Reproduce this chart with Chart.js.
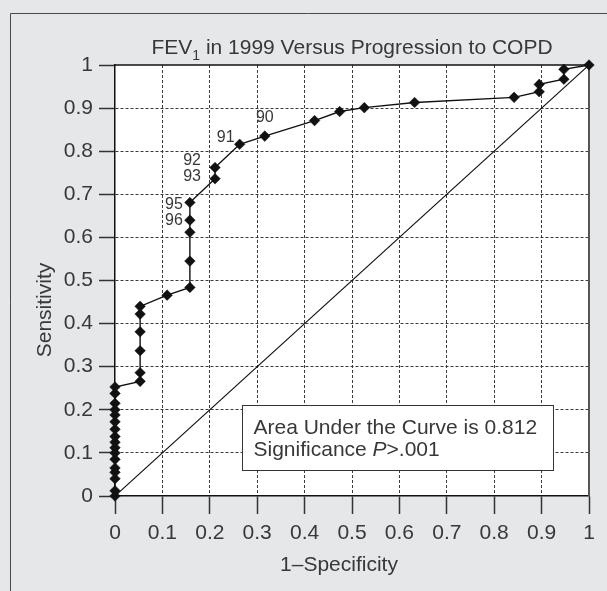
<!DOCTYPE html>
<html>
<head>
<meta charset="utf-8">
<title>FEV1 ROC</title>
<script src="https://cdn.jsdelivr.net/npm/chart.js@4.4.0/dist/chart.umd.min.js"></script>
<style>
    html, body { margin: 0; padding: 0; background: #e6e7e9; }
    #wrap { width: 607px; height: 591px; position: relative; }
</style>
</head>
<body>
<div id="wrap"><canvas id="roc"></canvas></div>
<script>
// ROC curve data
const fpr = [
    0, 0, 0, 0, 0, 0, 0, 0, 0, 0, 0, 0, 0, 0, 0, 0, 0,
    0.053, 0.053, 0.053, 0.053, 0.053, 0.053,
    0.11,
    0.158, 0.158, 0.158, 0.158, 0.158,
    0.211, 0.211, 0.263, 0.316, 0.421, 0.474, 0.526, 0.632,
    0.842, 0.895, 0.895, 0.947, 0.947, 1
];
const tpr = [
    0, 0.012, 0.04, 0.055, 0.065, 0.085, 0.1, 0.112, 0.125, 0.138, 0.155, 0.172, 0.188, 0.2, 0.215, 0.238, 0.253,
    0.266, 0.286, 0.337, 0.381, 0.422, 0.44,
    0.466,
    0.484, 0.545, 0.612, 0.64, 0.681,
    0.736, 0.762, 0.816, 0.835, 0.871, 0.892, 0.901, 0.913,
    0.925, 0.938, 0.955, 0.967, 0.99, 1
];
// cutoff labels (FEV1 % predicted) next to some points
const cutoffLabels = [
    '', '', '', '', '', '', '', '', '', '', '', '', '', '', '', '', '',
    '', '', '', '', '', '',
    '',
    '', '', '', '96', '95',
    '93', '92', '91', '90', '', '', '', '',
    '', '', '', '', '', ''
];
const diagonal = [0, 1];
const axisTicks = [0, 0.1, 0.2, 0.3, 0.4, 0.5, 0.6, 0.7, 0.8, 0.9, 1];
const tickLabels = ['0', '0.1', '0.2', '0.3', '0.4', '0.5', '0.6', '0.7', '0.8', '0.9', '1'];

const FONT = '"Liberation Sans", Arial, sans-serif';
const TEXT = '#383838';

// where each cutoff label sits relative to its point
const labelOffsets = {
    '90': { dx: 0, dy: -19, align: 'center' },
    '91': { dx: -5, dy: -7, align: 'right' },
    '92': { dx: -14, dy: -7, align: 'right' },
    '93': { dx: -14, dy: -2, align: 'right' },
    '95': { dx: -7, dy: 2, align: 'right' },
    '96': { dx: -7, dy: 0, align: 'right' }
};

const rocPoints = fpr.map((x, i) => ({ x: x, y: tpr[i] }));
const diagPoints = diagonal.map(v => ({ x: v, y: v }));

function setTicks(scale) {
    scale.ticks = axisTicks.map(v => ({ value: v }));
}

function tickText(value) {
    const i = axisTicks.indexOf(value);
    return i >= 0 ? tickLabels[i] : '';
}

function edgeColor(ctx) {
    const v = ctx.tick ? ctx.tick.value : null;
    return (v === 0 || v === 1) ? 'rgba(0,0,0,0)' : '#3a3a3a';
}

// Background, frame, plot borders
const framePlugin = {
    id: 'frame',
    beforeDraw(chart) {
        const { ctx, chartArea: a, width, height } = chart;
        ctx.save();
        ctx.fillStyle = '#e6e7e9';
        ctx.fillRect(0, 0, width, height);
        ctx.fillStyle = '#ffffff';
        ctx.fillRect(a.left, a.top, a.right - a.left, a.bottom - a.top);
        ctx.strokeStyle = '#4a4a4a';
        ctx.lineWidth = 1;
        ctx.beginPath();
        ctx.moveTo(10.5, height);
        ctx.lineTo(10.5, 13.5);
        ctx.lineTo(width, 13.5);
        ctx.stroke();
        ctx.restore();
    },
    beforeDatasetsDraw(chart) {
        const { ctx, chartArea: a } = chart;
        ctx.save();
        ctx.lineWidth = 1.5;
        ctx.strokeStyle = '#111';
        ctx.beginPath();
        ctx.moveTo(a.left, a.top);
        ctx.lineTo(a.right, a.top);
        ctx.stroke();
        ctx.strokeStyle = '#555';
        ctx.lineWidth = 2;
        ctx.beginPath();
        ctx.moveTo(a.right, a.top);
        ctx.lineTo(a.right, a.bottom);
        ctx.stroke();
        ctx.restore();
    }
};

// Title, axis titles, cutoff labels and AUC box
const textPlugin = {
    id: 'texts',
    afterDraw(chart) {
        const { ctx, chartArea: a } = chart;
        const xs = chart.scales.x;
        const ys = chart.scales.y;
        ctx.save();
        ctx.fillStyle = TEXT;

        // title with subscript 1
        const big = '21px ' + FONT;
        const small = '14px ' + FONT;
        const partA = 'FEV', partB = '1', partC = ' in 1999 Versus Progression to COPD';
        ctx.font = big;
        const wA = ctx.measureText(partA).width;
        const wC = ctx.measureText(partC).width;
        ctx.font = small;
        const wB = ctx.measureText(partB).width;
        let tx = (a.left + a.right) / 2 - (wA + wB + wC) / 2;
        const ty = 54;
        ctx.textAlign = 'left';
        ctx.textBaseline = 'alphabetic';
        ctx.font = big;
        ctx.fillText(partA, tx, ty);
        ctx.font = small;
        ctx.fillText(partB, tx + wA, ty + 6);
        ctx.font = big;
        ctx.fillText(partC, tx + wA + wB, ty);

        // axis titles
        ctx.font = big;
        ctx.textAlign = 'center';
        ctx.fillText('1\u2013Specificity', 339, 571);
        ctx.save();
        ctx.translate(51, 310);
        ctx.rotate(-Math.PI / 2);
        ctx.fillText('Sensitivity', 0, 0);
        ctx.restore();

        // cutoff labels
        ctx.font = '16px ' + FONT;
        ctx.textBaseline = 'middle';
        const meta = chart.getDatasetMeta(0);
        cutoffLabels.forEach((lab, i) => {
            if (!lab) return;
            const el = meta.data[i];
            const off = labelOffsets[lab];
            ctx.textAlign = off.align;
            ctx.fillText(lab, el.x + off.dx, el.y + off.dy);
        });

        // AUC box
        const bl = Math.round(xs.getPixelForValue(0.267)) + 0.5;
        const br = Math.round(xs.getPixelForValue(0.925)) + 0.5;
        const bt = Math.round(ys.getPixelForValue(0.21)) + 0.5;
        const bb = Math.round(ys.getPixelForValue(0.061)) + 0.5;
        ctx.fillStyle = '#ffffff';
        ctx.fillRect(bl, bt, br - bl, bb - bt);
        ctx.strokeStyle = '#333';
        ctx.lineWidth = 1;
        ctx.strokeRect(bl, bt, br - bl, bb - bt);

        ctx.fillStyle = TEXT;
        ctx.textAlign = 'left';
        ctx.textBaseline = 'alphabetic';
        ctx.font = big;
        const lx = bl + 11;
        ctx.fillText('Area Under the Curve is 0.812', lx, bt + 28);
        const l2 = bt + 50;
        const s1 = 'Significance ';
        ctx.fillText(s1, lx, l2);
        let w = ctx.measureText(s1).width;
        ctx.font = 'italic 21px ' + FONT;
        ctx.fillText('P', lx + w, l2);
        w += ctx.measureText('P').width;
        ctx.font = big;
        ctx.fillText('>.001', lx + w, l2);

        ctx.restore();
    }
};

new Chart(document.getElementById('roc'), {
    type: 'scatter',
    data: {
        datasets: [
            {
                label: 'ROC',
                data: rocPoints,
                showLine: true,
                borderColor: '#111',
                borderWidth: 1.4,
                pointStyle: 'rectRot',
                pointRadius: 5.3,
                pointBackgroundColor: '#111',
                pointBorderColor: '#111',
                pointBorderWidth: 0.5,
                clip: false
            },
            {
                label: 'Reference',
                data: diagPoints,
                showLine: true,
                borderColor: '#111',
                borderWidth: 1.1,
                pointRadius: 0
            }
        ]
    },
    options: {
        responsive: true,
        maintainAspectRatio: false,
        animation: false,
        layout: { padding: { top: 65, right: 18, left: 0, bottom: 0 } },
        plugins: {
            legend: { display: false },
            tooltip: { enabled: false },
            title: { display: false }
        },
        scales: {
            x: {
                type: 'linear',
                min: 0,
                max: 1,
                afterBuildTicks: setTicks,
                afterFit(scale) {
                    scale.height = 95;
                    scale.paddingLeft = 0;
                    scale.paddingRight = 0;
                },
                ticks: {
                    callback: tickText,
                    color: TEXT,
                    font: { family: FONT, size: 21 },
                    padding: 7,
                    maxRotation: 0,
                    autoSkip: false
                },
                grid: {
                    color: edgeColor,
                    lineWidth: 1,
                    tickLength: 18,
                    tickColor: '#333',
                    tickWidth: 1.5
                },
                border: { color: '#111', width: 1.5, dash: [3, 2] }
            },
            y: {
                type: 'linear',
                min: 0,
                max: 1,
                afterBuildTicks: setTicks,
                afterFit(scale) {
                    scale.width = 115;
                    scale.paddingTop = 0;
                    scale.paddingBottom = 0;
                },
                ticks: {
                    callback: tickText,
                    color: TEXT,
                    font: { family: FONT, size: 21 },
                    padding: 6,
                    autoSkip: false
                },
                grid: {
                    color: edgeColor,
                    lineWidth: 1,
                    tickLength: 16,
                    tickColor: '#333',
                    tickWidth: 1.5
                },
                border: { color: '#111', width: 1.5, dash: [3, 2] }
            }
        }
    },
    plugins: [framePlugin, textPlugin]
});
</script>
</body>
</html>
